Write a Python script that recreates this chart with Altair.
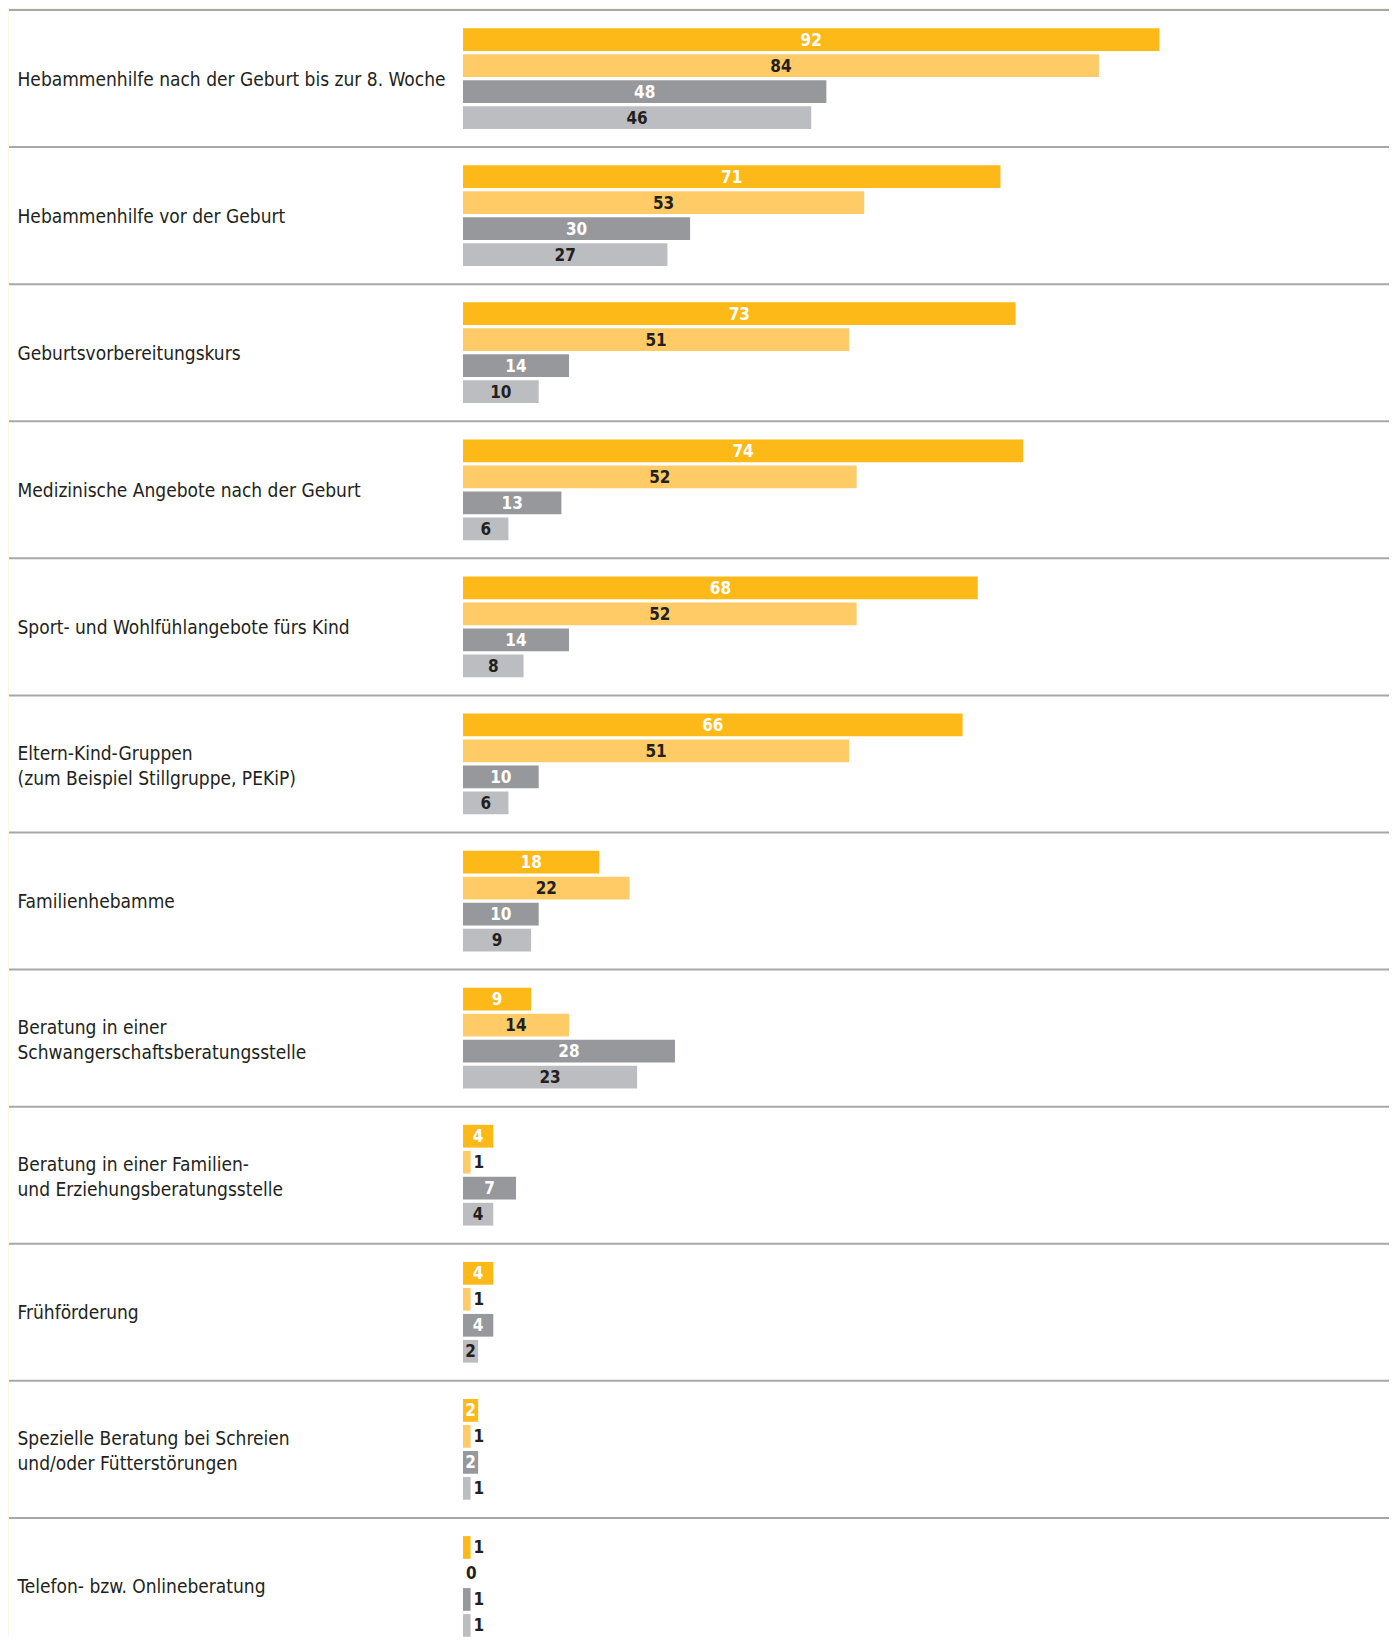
import altair as alt
import pandas as pd

categories = [
    "Hebammenhilfe nach der Geburt bis zur 8. Woche",
    "Hebammenhilfe vor der Geburt",
    "Geburtsvorbereitungskurs",
    "Medizinische Angebote nach der Geburt",
    "Sport- und Wohlfühlangebote fürs Kind",
    "Eltern-Kind-Gruppen|(zum Beispiel Stillgruppe, PEKiP)",
    "Familienhebamme",
    "Beratung in einer|Schwangerschaftsberatungsstelle",
    "Beratung in einer Familien-|und Erziehungsberatungsstelle",
    "Frühförderung",
    "Spezielle Beratung bei Schreien|und/oder Fütterstörungen",
    "Telefon- bzw. Onlineberatung",
]
series = ["Reihe 1", "Reihe 2", "Reihe 3", "Reihe 4"]
values_1 = [92, 71, 73, 74, 68, 66, 18, 9, 4, 4, 2, 1]
values_2 = [84, 53, 51, 52, 52, 51, 22, 14, 1, 1, 1, 0]
values_3 = [48, 30, 14, 13, 14, 10, 10, 28, 7, 4, 2, 1]
values_4 = [46, 27, 10, 6, 8, 6, 9, 23, 4, 2, 1, 1]
bar_colors = ["#FDB918", "#FECB66", "#97989B", "#BCBDC0"]

all_values = [values_1, values_2, values_3, values_4]
rows = []
for i, c in enumerate(categories):
    for j, s in enumerate(series):
        rows.append({"cat": c, "series": s, "idx": j, "value": all_values[j][i]})
df = pd.DataFrame(rows)
sep_df = pd.DataFrame({"cat": categories})

W = 1380
H = 1645
FONT = "DejaVu Sans Condensed, sans-serif"

xscale = alt.Scale(domain=[0, 100], range=[454, 1211])
yscale = alt.Scale(domain=categories, paddingInner=0, paddingOuter=0)
yoff = alt.YOffset("series:N", sort=series,
                   scale=alt.Scale(domain=series, paddingInner=0.125, paddingOuter=0.7))

y_enc = alt.Y("cat:N", sort=categories, scale=yscale,
              axis=alt.Axis(title=None, domain=False, ticks=False, tickSize=0,
                            labelAlign="left", labelBaseline="middle", labelPadding=-8,
                            labelFont=FONT, labelFontSize=19, labelColor="#231F20",
                            labelLimit=600, labelLineHeight=25,
                            labelOffset={"condition": {"test": "indexof(datum.value, '|') >= 0",
                                                       "value": -10},
                                         "value": 1},
                            labelExpr="split(datum.label, '|')"))

base = alt.Chart(df)

bars = base.mark_bar(cornerRadius=0).encode(
    x=alt.X("value:Q", scale=xscale, axis=None),
    y=y_enc,
    yOffset=yoff,
    color=alt.Color("series:N", sort=series,
                    scale=alt.Scale(domain=series, range=bar_colors), legend=None),
)

inside = base.transform_filter("datum.value >= 2").transform_calculate(
    mid="datum.value / 2",
    tcol="datum.idx == 0 || datum.idx == 2 ? '#FFFFFF' : '#231F20'",
).mark_text(align="center", baseline="middle", font=FONT, fontSize=17,
            fontWeight="bold", dy=1).encode(
    x=alt.X("mid:Q", scale=xscale, axis=None),
    y=alt.Y("cat:N", sort=categories, scale=yscale),
    yOffset=yoff,
    text=alt.Text("value:Q"),
    color=alt.Color("tcol:N", scale=None),
)

outside = base.transform_filter("datum.value < 2").mark_text(
    align="left", baseline="middle", font=FONT, fontSize=17,
    fontWeight="bold", dx=3, dy=1, color="#231F20").encode(
    x=alt.X("value:Q", scale=xscale, axis=None),
    y=alt.Y("cat:N", sort=categories, scale=yscale),
    yOffset=yoff,
    text=alt.Text("value:Q"),
)

seps = alt.Chart(sep_df).mark_rule(color="#A7A8AA", strokeWidth=2).encode(
    y=alt.Y("cat:N", sort=categories, scale=yscale, bandPosition=0),
    x=alt.value(0),
    x2=alt.value(W),
)

chart = alt.layer(seps, bars, inside, outside).properties(
    width=W, height=H,
    background="#FEF5E4",
    padding={"left": 1, "top": 2, "right": 0, "bottom": -18},
    autosize=alt.AutoSizeParams(type="none"),
).configure_view(fill="white", stroke=None)

chart.save("out.html", embed_options={"renderer": "svg", "actions": False})
